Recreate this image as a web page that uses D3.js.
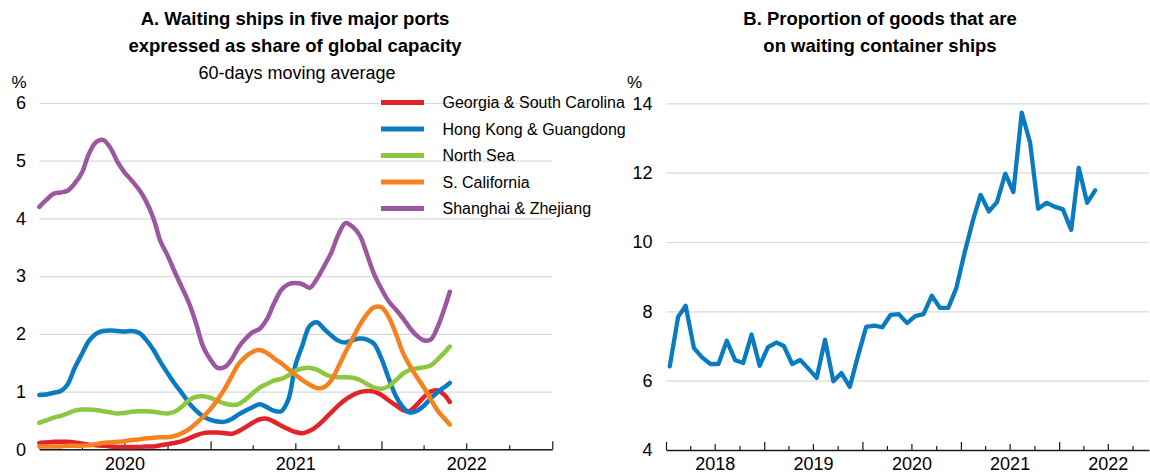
<!DOCTYPE html>
<html>
<head>
<meta charset="utf-8">
<script src="https://cdn.jsdelivr.net/npm/d3@7"></script>
<style>
  body { margin: 0; background: #fff; }
  svg { display: block; font-family: "Liberation Sans", Arial, Helvetica, sans-serif; }
</style>
</head>
<body>
<svg id="chart" width="1150" height="474"></svg>
<script>
// ---------- Panel A: waiting ships, 60-day moving average (% of global capacity) ----------
const portDates = [
  "2020-01-01","2020-01-16","2020-02-01","2020-02-16","2020-03-01","2020-03-16","2020-04-01","2020-04-16",
  "2020-05-01","2020-05-16","2020-06-01","2020-06-16","2020-07-01","2020-07-16","2020-08-01","2020-08-16",
  "2020-09-01","2020-09-16","2020-10-01","2020-10-16","2020-11-01","2020-11-16","2020-12-01","2020-12-16",
  "2021-01-01","2021-01-16","2021-02-01","2021-02-16","2021-03-01","2021-03-16","2021-04-01","2021-04-16",
  "2021-05-01","2021-05-16","2021-06-01","2021-06-16","2021-07-01","2021-07-16","2021-08-01","2021-08-16",
  "2021-09-01","2021-09-16","2021-10-01","2021-10-16","2021-11-01","2021-11-16","2021-12-01","2021-12-16",
  "2022-01-01","2022-01-16","2022-02-01","2022-02-16","2022-03-01","2022-03-16","2022-04-01","2022-04-16",
  "2022-05-01","2022-05-16","2022-05-27"
];

const georgiaSouthCarolina = [
  0.11,0.12,0.13,0.13,0.13,0.12,0.10,0.08,0.07,0.06,
  0.05,0.04,0.04,0.04,0.04,0.05,0.05,0.07,0.09,0.11,
  0.14,0.19,0.24,0.28,0.29,0.29,0.28,0.27,0.31,0.38,
  0.46,0.52,0.53,0.48,0.41,0.35,0.30,0.28,0.32,0.40,
  0.52,0.64,0.76,0.86,0.94,0.99,1.01,1.00,0.94,0.85,
  0.76,0.68,0.66,0.76,0.90,1.00,1.02,0.94,0.82
];
const hongKongGuangdong = [
  0.94,0.95,0.98,1.01,1.12,1.40,1.65,1.88,2.00,2.05,
  2.06,2.05,2.04,2.05,2.02,1.90,1.72,1.51,1.32,1.14,
  0.97,0.80,0.67,0.57,0.51,0.48,0.48,0.53,0.60,0.67,
  0.73,0.78,0.73,0.67,0.66,0.86,1.45,1.80,2.14,2.20,
  2.08,1.97,1.88,1.85,1.89,1.92,1.90,1.83,1.57,1.24,
  0.92,0.73,0.64,0.66,0.75,0.88,0.99,1.08,1.15
];
const northSea = [
  0.46,0.50,0.55,0.58,0.62,0.67,0.69,0.69,0.68,0.66,
  0.64,0.62,0.63,0.65,0.66,0.66,0.65,0.63,0.62,0.65,
  0.74,0.85,0.91,0.92,0.89,0.84,0.79,0.77,0.78,0.86,
  0.97,1.07,1.13,1.19,1.22,1.28,1.36,1.40,1.41,1.38,
  1.31,1.26,1.25,1.25,1.24,1.20,1.13,1.07,1.05,1.09,
  1.20,1.31,1.37,1.40,1.42,1.45,1.56,1.68,1.78
];
const southCalifornia = [
  0.05,0.05,0.05,0.05,0.06,0.06,0.06,0.07,0.09,0.11,
  0.12,0.13,0.14,0.16,0.17,0.19,0.20,0.21,0.21,0.23,
  0.28,0.35,0.45,0.56,0.70,0.86,1.06,1.28,1.47,1.60,
  1.69,1.72,1.67,1.58,1.49,1.39,1.29,1.20,1.12,1.06,
  1.08,1.20,1.43,1.68,1.93,2.16,2.34,2.46,2.46,2.30,
  2.00,1.67,1.47,1.27,1.08,0.87,0.67,0.53,0.43
];
const shanghaiZhejiang = [
  4.20,4.32,4.43,4.45,4.48,4.60,4.79,5.12,5.32,5.36,
  5.22,4.98,4.80,4.66,4.50,4.30,4.00,3.60,3.36,3.08,
  2.80,2.53,2.18,1.78,1.55,1.41,1.43,1.57,1.76,1.91,
  2.03,2.09,2.25,2.52,2.76,2.86,2.88,2.86,2.80,2.95,
  3.18,3.41,3.72,3.92,3.85,3.70,3.38,3.04,2.78,2.57,
  2.42,2.27,2.12,1.98,1.89,1.90,2.12,2.45,2.73
];

const portNames = [
  "Georgia & South Carolina", "Hong Kong & Guangdong", "North Sea",
  "S. California", "Shanghai & Zhejiang"
];
const portSeries = [georgiaSouthCarolina, hongKongGuangdong, northSea, southCalifornia, shanghaiZhejiang];
const portColors = ["#e2232a", "#0b7bc1", "#8dc63f", "#f6821f", "#9d56a2"];
const portTicks = [0, 1, 2, 3, 4, 5, 6];
const portYears = [2020, 2021, 2022];

// ---------- Panel B: share of goods on waiting container ships (%) ----------
const goodsDates = [
  "2018-01-15","2018-02-15","2018-03-15","2018-04-15","2018-05-15","2018-06-15",
  "2018-07-15","2018-08-15","2018-09-15","2018-10-15","2018-11-15","2018-12-15",
  "2019-01-15","2019-02-15","2019-03-15","2019-04-15","2019-05-15","2019-06-15",
  "2019-07-15","2019-08-15","2019-09-15","2019-10-15","2019-11-15","2019-12-15",
  "2020-01-15","2020-02-15","2020-03-15","2020-04-15","2020-05-15","2020-06-15",
  "2020-07-15","2020-08-15","2020-09-15","2020-10-15","2020-11-15","2020-12-15",
  "2021-01-15","2021-02-15","2021-03-15","2021-04-15","2021-05-15","2021-06-15",
  "2021-07-15","2021-08-15","2021-09-15","2021-10-15","2021-11-15","2021-12-15",
  "2022-01-15","2022-02-15","2022-03-15","2022-04-15","2022-05-15"
];
const goodsWaiting = [
  6.41, 7.84, 8.16, 6.94, 6.67, 6.48, 6.48, 7.15, 6.59, 6.51, 7.33, 6.43,
  6.97, 7.10, 7.00, 6.48, 6.60, 6.34, 6.08, 7.18, 5.98, 6.22, 5.82, 6.70,
  7.55, 7.59, 7.54, 7.90, 7.92, 7.66, 7.86, 7.92, 8.45, 8.10, 8.10, 8.67,
  9.70, 10.63, 11.36, 10.88, 11.15, 11.97, 11.44, 13.73, 12.87, 10.96, 11.13, 11.02,
  10.94, 10.35, 12.14, 11.13, 11.49
];
const goodsTicks = [4, 6, 8, 10, 12, 14];
const goodsYears = [2018, 2019, 2020, 2021, 2022];

// ---------- drawing ----------
const svg = d3.select("#chart");
const parse = d3.utcParse("%Y-%m-%d");
const fontSize = 18;

function drawPanel(opts) {
  const { x, y, ticks, years, left, right, bottom, labelX } = opts;

  // horizontal gridlines with value labels
  const yAxis = d3.axisLeft(y)
    .tickValues(ticks)
    .tickSize(-(right - left))
    .tickPadding(left - labelX)
    .tickFormat(d3.format("d"));
  const gy = svg.append("g")
    .attr("transform", `translate(${left},0)`)
    .call(yAxis);
  gy.select(".domain").remove();
  gy.selectAll(".tick line").attr("stroke", "#d9d9d9").attr("stroke-width", 1.2);
  gy.selectAll(".tick text")
    .attr("fill", "#000")
    .attr("font-size", fontSize)
    .attr("font-family", "Liberation Sans, Arial, sans-serif");

  // quarterly ticks on the time axis, longer at year and half-year marks
  const quarters = d3.utcMonth.every(3).range(x.domain()[0], d3.utcDay.offset(x.domain()[1], 1));
  const xAxis = d3.axisBottom(x)
    .tickValues(quarters)
    .tickSizeInner(-4)
    .tickSizeOuter(0)
    .tickFormat("");
  const gx = svg.append("g")
    .attr("transform", `translate(0,${bottom})`)
    .call(xAxis);
  gx.select(".domain").attr("stroke", "#1a1a1a").attr("stroke-width", 1.6);
  gx.selectAll(".tick line")
    .attr("stroke", "#1a1a1a")
    .attr("stroke-width", 1.2)
    .attr("y2", d => d.getUTCMonth() === 0 ? -8 : (d.getUTCMonth() === 6 ? -6 : -4));

  // year labels centred on mid-year
  const yearAxis = d3.axisBottom(x)
    .tickValues(years.map(yr => new Date(Date.UTC(yr, 6, 1))))
    .tickSize(0)
    .tickPadding(7.5)
    .tickFormat(d3.utcFormat("%Y"));
  const gl = svg.append("g")
    .attr("transform", `translate(0,${bottom})`)
    .call(yearAxis);
  gl.select(".domain").remove();
  gl.selectAll(".tick text")
    .attr("fill", "#000")
    .attr("font-size", fontSize)
    .attr("font-family", "Liberation Sans, Arial, sans-serif");
}

// Panel A scales
const xA = d3.scaleUtc()
  .domain([new Date(Date.UTC(2020, 0, 1)), new Date(Date.UTC(2023, 0, 1))])
  .range([39.3, 552.3]);
const yA = d3.scaleLinear().domain([0, 6]).range([449.3, 103]);

drawPanel({ x: xA, y: yA, ticks: portTicks, years: portYears,
            left: 39.3, right: 552.3, bottom: 449.3, labelX: 26 });

// Panel B scales
const xB = d3.scaleUtc()
  .domain([new Date(Date.UTC(2018, 0, 1)), new Date(Date.UTC(2022, 11, 1))])
  .range([666, 1149]);
const yB = d3.scaleLinear().domain([4, 14]).range([450, 103.3]);

drawPanel({ x: xB, y: yB, ticks: goodsTicks, years: goodsYears,
            left: 666, right: 1149, bottom: 450, labelX: 652.5 });

// Panel A lines
const portLine = d3.line()
  .x(d => xA(d.date))
  .y(d => yA(d.value))
  .curve(d3.curveCatmullRom.alpha(0.5));

portSeries.forEach((values, i) => {
  const pts = values.map((v, k) => ({ date: parse(portDates[k]), value: v }));
  svg.append("path")
    .datum(pts)
    .attr("d", portLine)
    .attr("fill", "none")
    .attr("stroke", portColors[i])
    .attr("stroke-width", 4.5)
    .attr("stroke-linejoin", "round")
    .attr("stroke-linecap", "round");
});

// Panel A legend
const legend = svg.append("g").attr("font-size", 16);
portNames.forEach((name, i) => {
  const ly = 102.5 + i * 26.5;
  legend.append("line")
    .attr("x1", 381).attr("x2", 424)
    .attr("y1", ly).attr("y2", ly)
    .attr("stroke", portColors[i])
    .attr("stroke-width", 5);
  legend.append("text")
    .attr("x", 442.5).attr("y", ly)
    .attr("dy", "0.35em")
    .attr("fill", "#000")
    .text(name);
});

// Panel B line
const goodsLine = d3.line()
  .x((d, k) => xB(parse(goodsDates[k])))
  .y(d => yB(d));
svg.append("path")
  .datum(goodsWaiting)
  .attr("d", goodsLine)
  .attr("fill", "none")
  .attr("stroke", "#0b7bc1")
  .attr("stroke-width", 4.3)
  .attr("stroke-linejoin", "round")
  .attr("stroke-linecap", "round");

// Titles and unit labels
const titles = svg.append("g").attr("fill", "#000").attr("text-anchor", "middle");
titles.append("text").attr("x", 295).attr("y", 25)
  .attr("font-size", 18.5).attr("font-weight", "bold")
  .text("A. Waiting ships in five major ports");
titles.append("text").attr("x", 295).attr("y", 52)
  .attr("font-size", 18.5).attr("font-weight", "bold")
  .text("expressed as share of global capacity");
titles.append("text").attr("x", 297).attr("y", 79)
  .attr("font-size", 18)
  .text("60-days moving average");
titles.append("text").attr("x", 880).attr("y", 25)
  .attr("font-size", 18.5).attr("font-weight", "bold")
  .text("B. Proportion of goods that are");
titles.append("text").attr("x", 880).attr("y", 52)
  .attr("font-size", 18.5).attr("font-weight", "bold")
  .text("on waiting container ships");

svg.append("text").attr("x", 19).attr("y", 88)
  .attr("text-anchor", "middle").attr("font-size", 17).attr("fill", "#000")
  .text("%");
svg.append("text").attr("x", 634.5).attr("y", 88)
  .attr("text-anchor", "middle").attr("font-size", 17).attr("fill", "#000")
  .text("%");
</script>
</body>
</html>
